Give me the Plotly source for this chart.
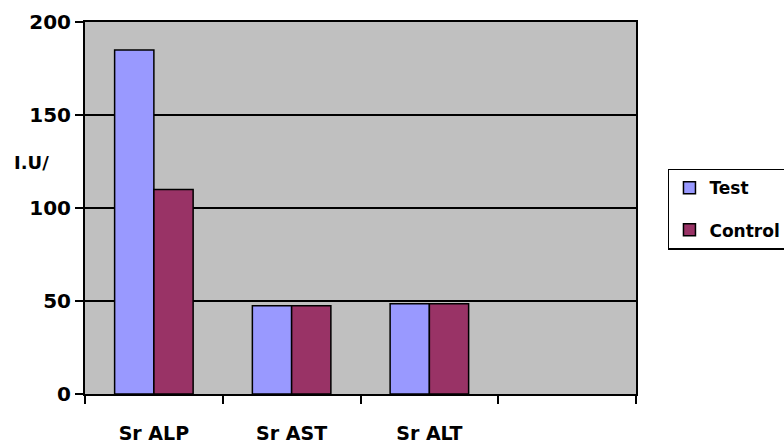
import plotly.graph_objects as go

# Serum enzyme levels (I.U/L)
categories = ["Sr ALP", "Sr AST", "Sr ALT", " "]
test_values = [185, 47.5, 48.5]
control_values = [110, 47.5, 48.5]

FONT = "DejaVu Sans"

fig = go.Figure()
fig.add_trace(go.Bar(
    name="<b>Test</b>", x=categories[:3], y=test_values,
    marker=dict(color="#9999FF", line=dict(color="black", width=1.5)),
    legendgroup="a",
))
fig.add_trace(go.Bar(
    name="<b>Control</b>", x=categories[:3], y=control_values,
    marker=dict(color="#993366", line=dict(color="black", width=1.5)),
    legendgroup="b",
))

fig.update_layout(
    width=784, height=444,
    margin=dict(l=85, r=148, t=22, b=50),
    paper_bgcolor="white",
    plot_bgcolor="#C0C0C0",
    barmode="group",
    bargap=0.43,
    bargroupgap=0,
    font=dict(family=FONT, size=19, color="black"),
    showlegend=True,
    legend=dict(
        xref="container", yref="container",
        x=0.852, xanchor="left", y=0.62, yanchor="top",
        bordercolor="black", borderwidth=1.5, bgcolor="white",
        font=dict(family=FONT, size=17, color="black"),
        tracegroupgap=17,
        traceorder="grouped",
    ),
    xaxis=dict(
        type="category",
        categoryorder="array", categoryarray=categories,
        range=[-0.5, 3.5],
        tickson="boundaries",
        ticks="outside", ticklen=8, tickcolor="black", tickwidth=1.5,
        showline=True, linecolor="black", linewidth=2, mirror=True,
        showgrid=False,
        automargin=False,
        tickfont=dict(family=FONT, size=19, color="black", weight="bold"),
        ticklabelstandoff=21,
    ),
    yaxis=dict(
        range=[0, 200],
        tickvals=[0, 50, 100, 150, 200],
        ticks="outside", ticklen=8, tickcolor="black", tickwidth=1.5,
        showline=True, linecolor="black", linewidth=2, mirror=True,
        showgrid=True, gridcolor="black", gridwidth=1.5,
        zeroline=False,
        automargin=False,
        tickfont=dict(family=FONT, size=20, color="black", weight="bold"),
    ),
    annotations=[dict(
        text="<b>I.U/</b>", xref="paper", yref="paper",
        x=-0.1325, y=0.621, xanchor="left", yanchor="middle",
        showarrow=False, font=dict(family=FONT, size=18, color="black"),
    )],
)

fig.write_html("out.html")
